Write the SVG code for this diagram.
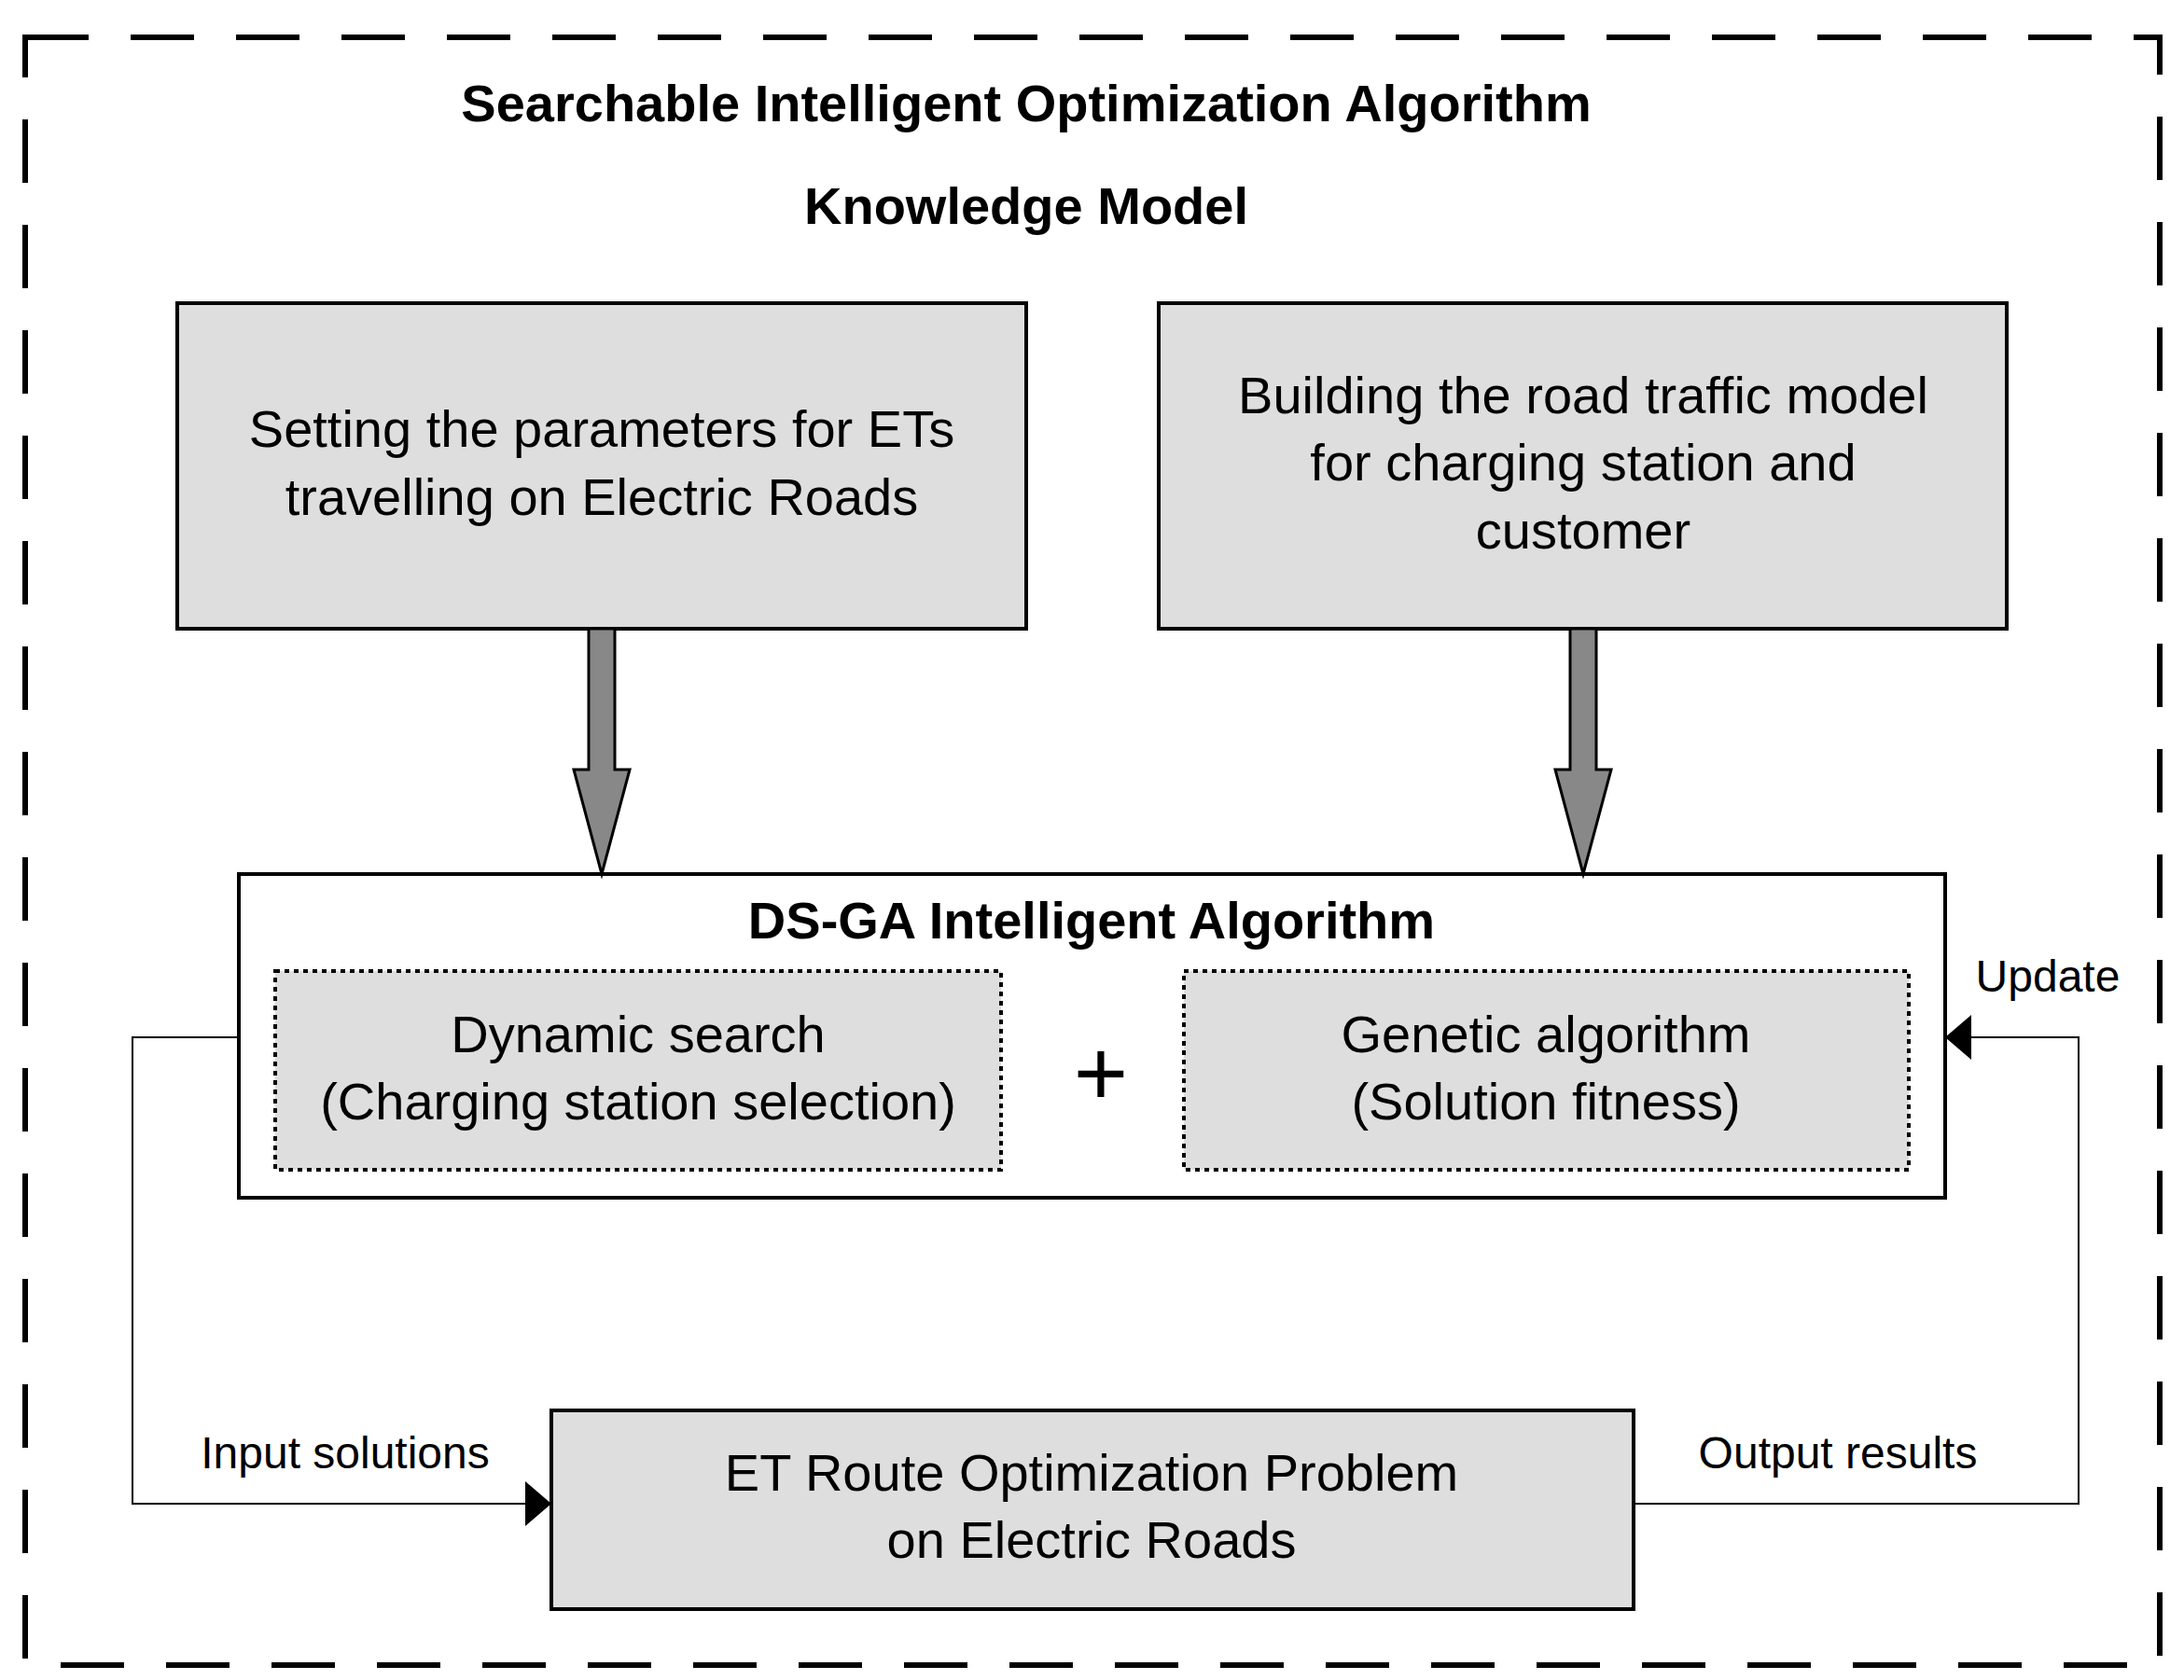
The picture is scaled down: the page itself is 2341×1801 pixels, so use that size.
<svg xmlns="http://www.w3.org/2000/svg" width="2341" height="1801" viewBox="0 0 2341 1801">
<style>
text{font-family:"Liberation Sans",Arial,sans-serif;fill:#000;text-anchor:middle}
.t{font-size:56px;font-weight:bold}
.b{font-size:56px}
.l{font-size:48px}
.box{fill:#dedede;stroke:#000;stroke-width:4}
.dot{fill:#dedede;stroke:#000;stroke-width:4;stroke-dasharray:5 5}
.ln{fill:none;stroke:#000;stroke-width:2}
.ar{fill:#888;stroke:#000;stroke-width:3}
</style>
<defs><marker id="m" markerWidth="10" markerHeight="10" refX="10" refY="5" orient="auto" markerUnits="userSpaceOnUse" viewBox="0 0 10 10"><path d="M0,0L10,5L0,10z" fill="#000"/></marker></defs>
<rect x="0" y="0" width="2341" height="1801" fill="#fff"/>
<rect x="27" y="40" width="2288" height="1745" fill="none" stroke="#000" stroke-width="6" stroke-dasharray="68 45"/>
<text class="t" x="1100" y="130">Searchable Intelligent Optimization Algorithm</text>
<text class="t" x="1100" y="240">Knowledge Model</text>
<g id="n1"><rect class="box" x="190" y="325" width="910" height="349"/>
<text class="b" x="645" y="479">Setting the parameters for ETs</text>
<text class="b" x="645" y="552">travelling on Electric Roads</text></g>
<g id="n2"><rect class="box" x="1242" y="325" width="909" height="349"/>
<text class="b" x="1697" y="443">Building the road traffic model</text>
<text class="b" x="1697" y="515">for charging station and</text>
<text class="b" x="1697" y="588">customer</text></g>
<g id="n3"><rect x="256" y="937" width="1829" height="347" fill="#fff" stroke="#000" stroke-width="4"/>
<text class="t" x="1170" y="1006">DS-GA Intelligent Algorithm</text>
<g id="n3a"><rect class="dot" x="295" y="1041" width="778" height="213"/>
<text class="b" x="684" y="1128">Dynamic search</text>
<text class="b" x="684" y="1200">(Charging station selection)</text></g>
<text x="1180" y="1185" font-size="100" font-weight="normal" style="font-family:'Liberation Sans',sans-serif">+</text>
<g id="n3b"><rect class="dot" x="1269" y="1041" width="777" height="213"/>
<text class="b" x="1657" y="1128">Genetic algorithm</text>
<text class="b" x="1657" y="1200">(Solution fitness)</text></g></g>
<g id="n4"><rect class="box" x="591" y="1512" width="1160" height="213"/>
<text class="b" x="1170" y="1598">ET Route Optimization Problem</text>
<text class="b" x="1170" y="1670">on Electric Roads</text></g>
<g id="connectors">
<path class="ar" d="M631,674H659V825H675L645,937L615,825H631Z"/>
<path class="ar" d="M1683,674H1711V825H1727L1697,937L1667,825H1683Z"/>
<path class="ln" d="M256,1112H142V1612H591" marker-end="url(#m)" />
<path d="M563,1588L591,1612L563,1636Z" fill="#000"/>
<path class="ln" d="M1751,1612H2228V1112H2085"/>
<path d="M2113,1088L2085,1112L2113,1136Z" fill="#000"/>
</g>
<text class="l" x="370" y="1574">Input solutions</text>
<text class="l" x="1970" y="1574">Output results</text>
<text class="l" x="2195" y="1063">Update</text>
</svg>
